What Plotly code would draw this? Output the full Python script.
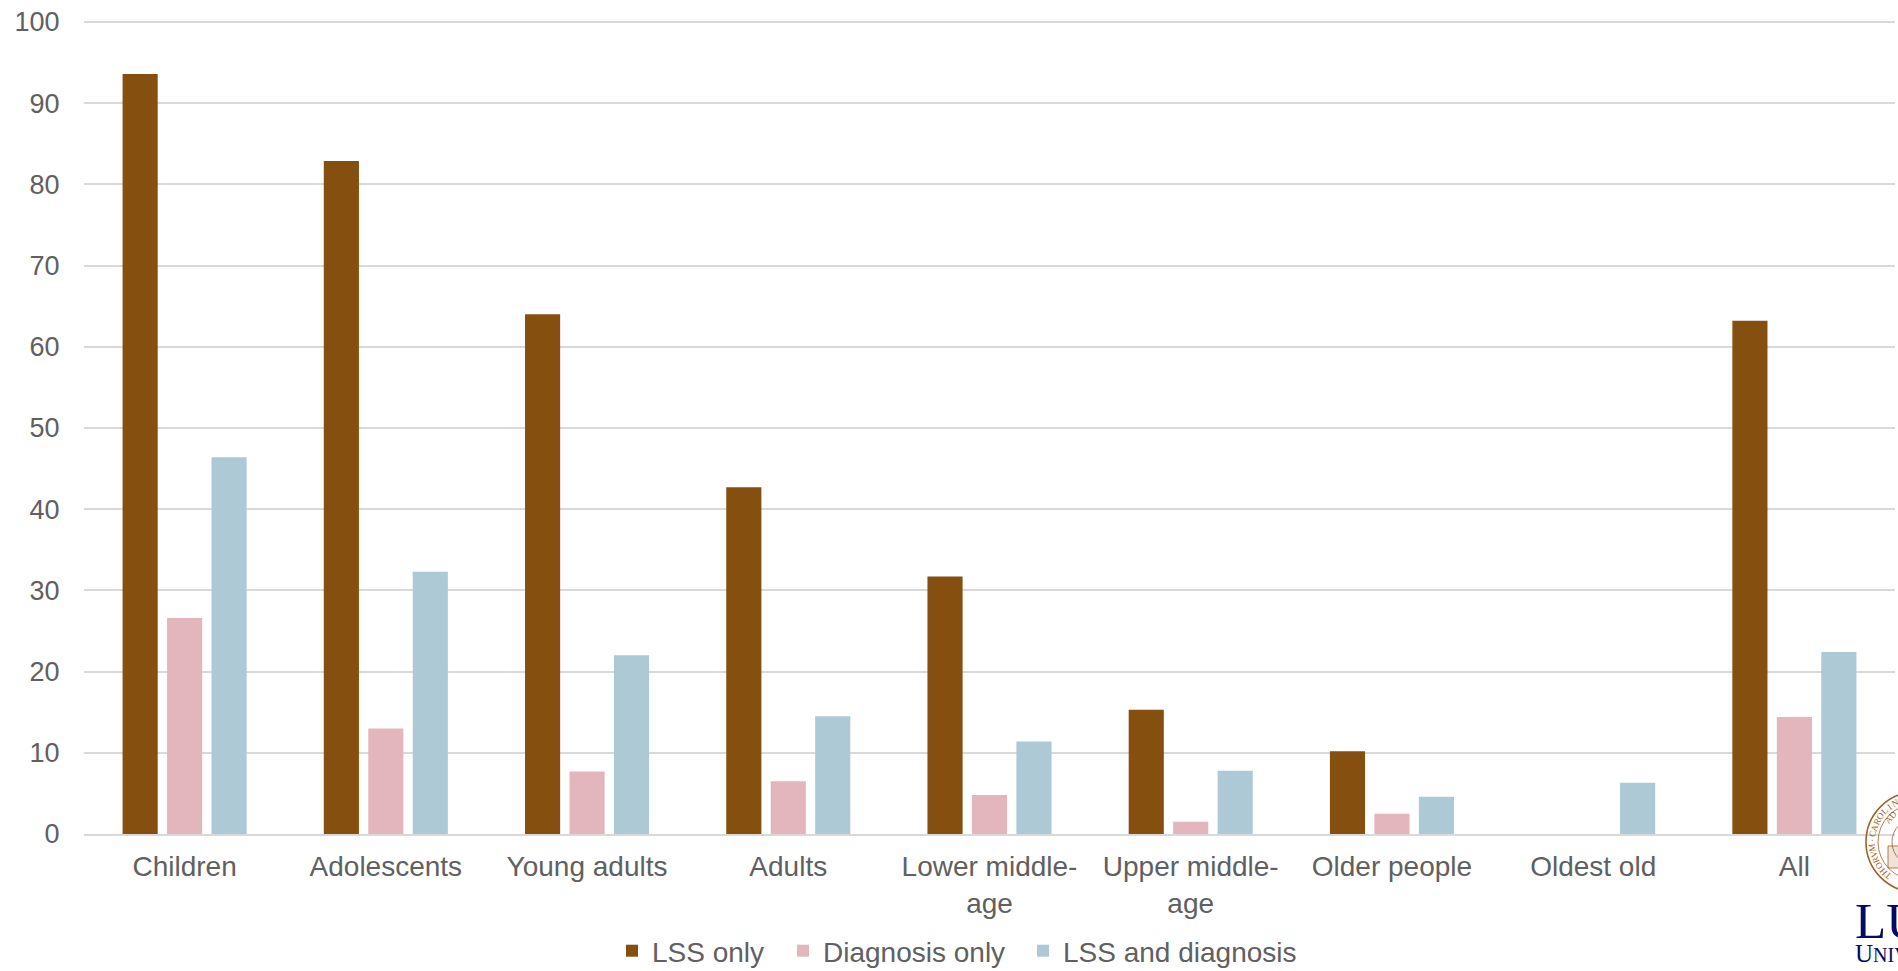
import math
import plotly.graph_objects as go

categories = ["Children", "Adolescents", "Young adults", "Adults", "Lower middle-<br>age",
              "Upper middle-<br>age", "Older people", "Oldest old", "All"]
lss_only = [93.6, 82.9, 64.0, 42.7, 31.7, 15.3, 10.2, None, 63.2]
diagnosis_only = [26.6, 13.0, 7.7, 6.5, 4.8, 1.5, 2.5, None, 14.4]
lss_and_diagnosis = [46.4, 32.3, 22.0, 14.5, 11.4, 7.8, 4.6, 6.3, 22.4]
series = [("LSS only", lss_only, "#854F10", "legend"),
          ("Diagnosis only", diagnosis_only, "#E3B6BD", "legend2"),
          ("LSS and diagnosis", lss_and_diagnosis, "#ACC9D5", "legend3")]

fig = go.Figure()
for name, vals, col, leg in series:
    fig.add_bar(x=categories, y=vals, name=name, legend=leg, showlegend=True,
                marker=dict(color=col, line_width=0))

FONT = "Liberation Sans, Arial, sans-serif"
TEXT = "#606060"
LEFT, RIGHT, TOP, BOTTOM = 84, 3, 20, 137
PW = 1898 - LEFT - RIGHT
PH = 971 - TOP - BOTTOM


def legend_at(px_left):
    return dict(orientation="h", xanchor="left", x=(px_left - LEFT) / PW, yanchor="middle",
                y=-(951 - (971 - BOTTOM)) / PH, font=dict(family=FONT, size=28, color=TEXT),
                itemclick=False, bgcolor="rgba(0,0,0,0)")


fig.update_layout(
    width=1898, height=971, autosize=False, showlegend=True,
    paper_bgcolor="white", plot_bgcolor="white",
    margin=dict(l=LEFT, r=RIGHT, t=TOP, b=BOTTOM, autoexpand=False),
    barmode="group", bargap=0.337, bargroupgap=0.21,
    font=dict(family=FONT, size=27, color=TEXT),
    legend=legend_at(612), legend2=legend_at(783), legend3=legend_at(1023),
    xaxis=dict(showgrid=False, showline=True, linecolor="#D9D9D9", linewidth=1.5,
               ticks="outside", ticklen=7, tickcolor="rgba(0,0,0,0)", tickfont=dict(size=28)),
    yaxis=dict(range=[0, 100.25], dtick=10, showgrid=True, gridcolor="#D9D9D9", gridwidth=1.5,
               zeroline=False, showline=False, ticks="outside", ticklen=18,
               tickcolor="rgba(0,0,0,0)", tickfont=dict(size=27)),
)

# University seal and wordmark, cut off by the right edge as in the reference
SEAL = "#A0622A"
NAVY = "#000C66"
W, Y0 = 1898, 971 - BOTTOM
CX, CY = 1916, 842
AX = 1 + RIGHT / PW
ANCHOR = dict(xref="paper", yref="paper", xsizemode="pixel", ysizemode="pixel",
              xanchor=AX, yanchor=0, layer="above")


def px(x):
    return x - W


def py(y):
    return Y0 - y


for r, lw in ((50, 1.6), (38, 0.8), (24, 0.8)):
    fig.add_shape(type="circle", x0=px(CX - r), x1=px(CX + r), y0=py(CY + r), y1=py(CY - r),
                  line=dict(color=SEAL, width=lw), fillcolor="rgba(0,0,0,0)", **ANCHOR)
fig.add_shape(type="rect", x0=px(1888), x1=px(1902), y0=py(868), y1=py(846),
              line=dict(color=SEAL, width=0.8), fillcolor="rgba(160,98,42,0.18)", **ANCHOR)

ring = "THORVM·CAROLIN"
for i, ch in enumerate(ring):
    theta = -50 + i * 8.6
    t = math.radians(theta)
    lx = CX - 44 * math.cos(t)
    ly = CY - 44 * math.sin(t)
    fig.add_annotation(xref="paper", yref="paper", x=AX, y=0, xanchor="center", yanchor="middle",
                       xshift=px(lx), yshift=py(ly), text=ch, textangle=theta - 90, showarrow=False,
                       font=dict(family="Liberation Serif", size=9, color=SEAL))
fig.add_annotation(xref="paper", yref="paper", x=AX, y=0, xanchor="center", yanchor="middle",
                   xshift=px(1891), yshift=py(817), text="AD", textangle=-50, showarrow=False,
                   font=dict(family="Liberation Serif", size=9, color=SEAL))
fig.add_annotation(xref="paper", yref="paper", x=AX, y=0, xanchor="left", yanchor="middle",
                   xshift=px(1853), yshift=py(921), text="LUND", showarrow=False, align="left",
                   font=dict(family="Liberation Serif", size=51, color=NAVY))
fig.add_annotation(xref="paper", yref="paper", x=AX, y=0, xanchor="left", yanchor="middle",
                   xshift=px(1853), yshift=py(953),
                   text="U<span style='font-size:20px'>NIVERSITY</span>", showarrow=False, align="left",
                   font=dict(family="Liberation Serif", size=25, color=NAVY))

fig.write_html("out.html", config=dict(displayModeBar=False),
               post_script="document.body.style.margin='0';document.body.style.overflow='hidden';")
